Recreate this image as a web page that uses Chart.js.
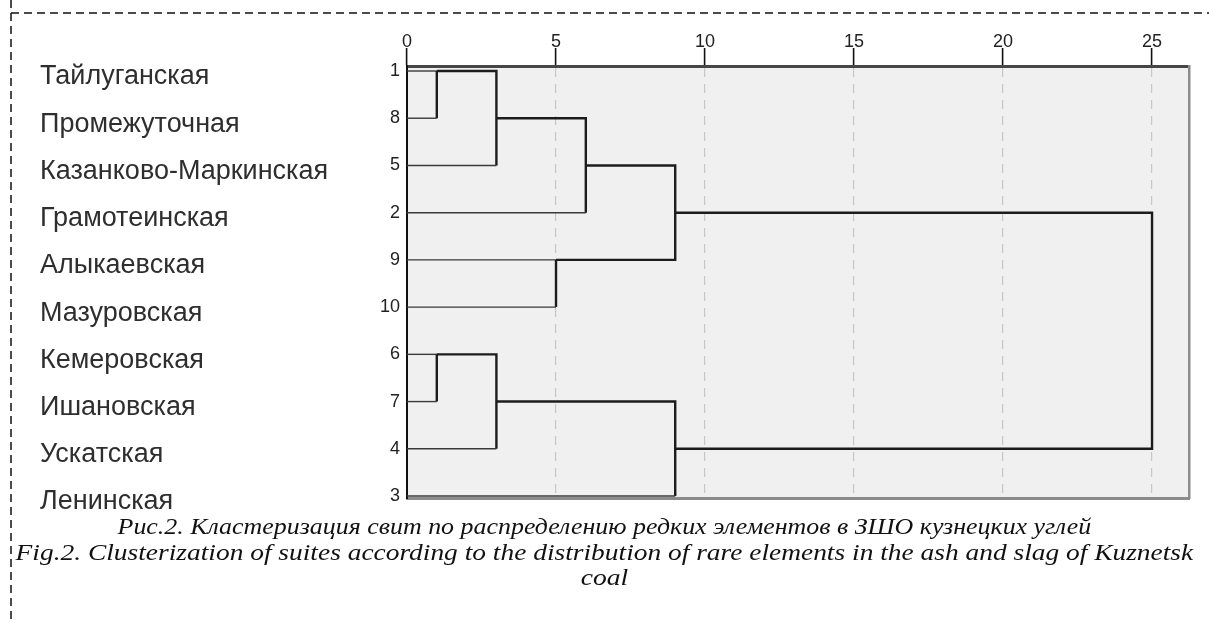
<!DOCTYPE html>
<html>
<head>
<meta charset="utf-8">
<script src="https://cdn.jsdelivr.net/npm/chart.js@4.4.0/dist/chart.umd.min.js"></script>
<style>
body { margin: 0; background: #fff; }
#wrap { position: relative; width: 1209px; height: 624px; overflow: hidden; }
#dendro { position: absolute; left: 0; top: 0; }
.cap { position: absolute; left: 0; width: 1209px; text-align: center; white-space: nowrap;
       font-family: "Liberation Serif", "DejaVu Serif", serif; font-style: italic; font-size: 23px; color: #111;
       transform-origin: 605px 50%; }
</style>
</head>
<body>
<div id="wrap">
<canvas id="dendro" width="1209" height="624"></canvas>
<div class="cap" id="cap1" style="top:514px; transform: scaleX(1.127)">Рис.2. Кластеризация свит по распределению редких элементов в ЗШО кузнецких углей</div>
<div class="cap" id="cap2" style="top:540px; transform: scaleX(1.192)">Fig.2. Clusterization of suites according to the distribution of rare elements in the ash and slag of Kuznetsk</div>
<div class="cap" id="cap3" style="top:565px; transform: scaleX(1.2)">coal</div>
</div>
<script>
// rows of the dendrogram, top to bottom
var caseIds = [1, 8, 5, 2, 9, 10, 6, 7, 4, 3];
var suiteNames = ['Тайлуганская', 'Промежуточная', 'Казанково-Маркинская', 'Грамотеинская', 'Алыкаевская',
                  'Мазуровская', 'Кемеровская', 'Ишановская', 'Ускатская', 'Ленинская'];
var xTicks = [0, 5, 10, 15, 20, 25];

// agglomeration steps: members (case id or 'cN' = cluster made at step N) and rescaled distance
var stepLeft  = [1, 6, 'c0', 'c1', 9, 'c2', 'c5', 'c3', 'c6'];
var stepRight = [8, 7, 5, 4, 10, 2, 'c4', 3, 'c7'];
var stepDist  = [1, 1, 3, 3, 5, 6, 9, 9, 25];

var nodes = [];
function getNode(m) {
    if (typeof m === 'string') return nodes[parseInt(m.slice(1))];
    return { x: 0, row: caseIds.indexOf(m) };
}

function isLeafSeg(ctx) {
    return ctx.p0.parsed.y === ctx.p1.parsed.y && (ctx.p0.parsed.x === 0 || ctx.p1.parsed.x === 0);
}

var datasets = [];
for (var i = 0; i < stepDist.length; i++) {
    var a = getNode(stepLeft[i]);
    var b = getNode(stepRight[i]);
    var h = stepDist[i];
    datasets.push({
        data: [{ x: a.x, y: a.row }, { x: h, y: a.row }, { x: h, y: b.row }, { x: b.x, y: b.row }],
        showLine: true,
        fill: false,
        pointRadius: 0,
        borderColor: '#1c1c1c',
        borderWidth: 2.4,
        segment: {
            borderWidth: function (ctx) { return isLeafSeg(ctx) ? 1.4 : 2.4; },
            borderColor: function (ctx) { return isLeafSeg(ctx) ? '#3a3a3a' : '#1c1c1c'; }
        }
    });
    nodes.push({ x: h, row: Math.floor((a.row + b.row) / 2) });
}

var rowTicks = function (axis) {
    axis.ticks = caseIds.map(function (v, k) { return { value: k }; });
};

var frame = {
    id: 'frame',
    beforeDraw: function (chart) {
        var c = chart.ctx, area = chart.chartArea;
        c.save();
        c.fillStyle = '#f0f0f0';
        c.fillRect(area.left, area.top, area.right - area.left, area.bottom - area.top);
        c.strokeStyle = '#111';
        c.lineWidth = 1.5;
        c.setLineDash([8, 5]);
        c.beginPath();
        c.moveTo(11, 0);
        c.lineTo(11, chart.height);
        c.moveTo(11, 13);
        c.lineTo(chart.width, 13);
        c.stroke();
        c.restore();
    }
};

var numFont = { family: "'Liberation Sans Narrow', 'Liberation Sans', Arial", size: 18 };

new Chart(document.getElementById('dendro'), {
    type: 'scatter',
    data: { datasets: datasets },
    plugins: [frame],
    options: {
        responsive: false,
        animation: false,
        layout: { padding: { left: 40, top: 26, right: 20, bottom: 126 } },
        plugins: { legend: { display: false }, tooltip: { enabled: false } },
        scales: {
            x: {
                type: 'linear',
                position: 'top',
                min: 0,
                max: 26.24,
                afterBuildTicks: function (axis) {
                    axis.ticks = xTicks.map(function (v) { return { value: v }; });
                },
                afterFit: function (axis) { axis.height = 40; },
                ticks: { font: numFont, color: '#222', padding: -5, maxRotation: 0 },
                grid: {
                    color: function (ctx) { return ctx.tick && ctx.tick.value === 0 ? 'rgba(0,0,0,0)' : '#c6c6c6'; },
                    lineWidth: 1.2,
                    tickLength: 18,
                    tickColor: '#111',
                    tickWidth: 1.6
                },
                border: { color: '#464646', width: 3, dash: [9, 7] }
            },
            xBottom: {
                type: 'linear',
                position: 'bottom',
                min: 0,
                max: 26.24,
                ticks: { display: false },
                grid: { display: false, drawTicks: false },
                afterFit: function (axis) { axis.height = 0; },
                border: { color: '#8c8c8c', width: 3 }
            },
            y: {
                type: 'linear',
                position: 'left',
                reverse: true,
                min: -0.106,
                max: 9.042,
                weight: 0,
                afterBuildTicks: rowTicks,
                afterFit: function (axis) { axis.width = 30; },
                ticks: {
                    font: numFont,
                    color: '#222',
                    padding: 7,
                    callback: function (v) { return String(caseIds[v]); }
                },
                grid: { display: false, drawTicks: false },
                border: { color: '#111', width: 2 }
            },
            yNames: {
                type: 'linear',
                position: 'left',
                reverse: true,
                min: -0.106,
                max: 9.042,
                weight: 1,
                afterBuildTicks: rowTicks,
                afterFit: function (axis) { axis.width = 337; },
                ticks: {
                    font: { family: "'Liberation Sans', Arial", size: 27 },
                    color: '#2e2e2e',
                    crossAlign: 'far',
                    labelOffset: 6,
                    padding: 0,
                    callback: function (v) { return suiteNames[v]; }
                },
                grid: { display: false, drawTicks: false },
                border: { display: false }
            },
            yRight: {
                type: 'linear',
                position: 'right',
                min: 0,
                max: 1,
                ticks: { display: false },
                grid: { display: false, drawTicks: false },
                afterFit: function (axis) { axis.width = 0; },
                border: { color: '#8c8c8c', width: 2.5 }
            }
        }
    }
});
</script>
</body>
</html>
